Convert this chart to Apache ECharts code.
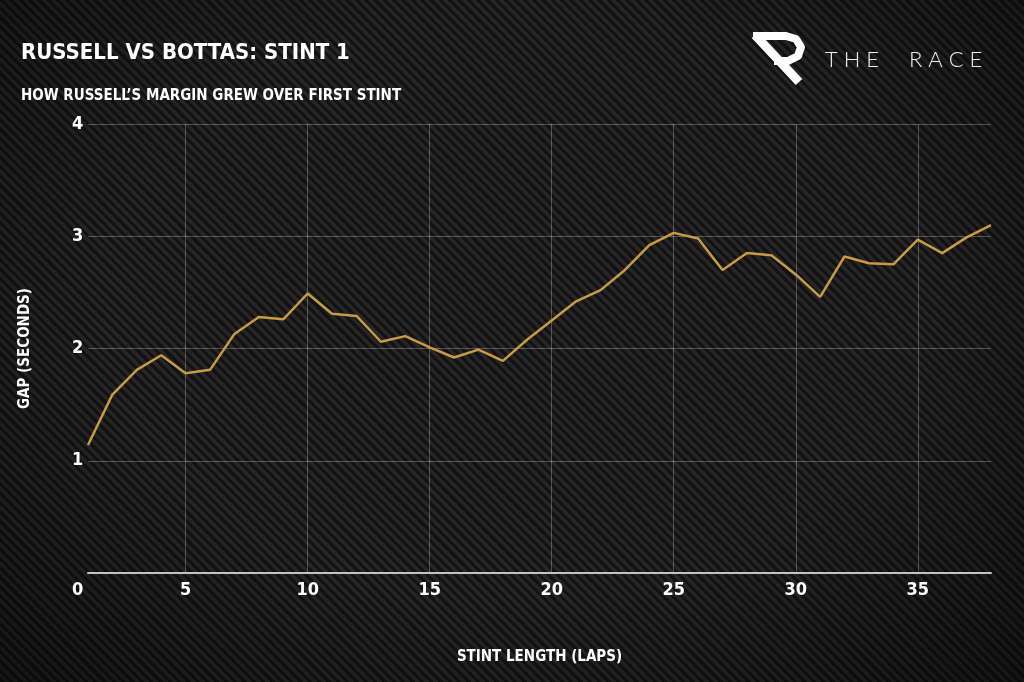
<!DOCTYPE html>
<html>
<head>
<meta charset="utf-8">
<script src="https://cdn.jsdelivr.net/npm/echarts@6/dist/echarts.min.js"></script>
<style>
  html, body { margin: 0; padding: 0; width: 1024px; height: 682px; overflow: hidden; }
  body {
    background:
      radial-gradient(ellipse at 50% 45%, rgba(0,0,0,0) 55%, rgba(0,0,0,0.45) 100%),
      repeating-linear-gradient(45deg, #121212 0px, #121212 3.2px, #262626 3.3px, #262626 6.6px);
  }
  #chart { width: 1024px; height: 682px; }
</style>
</head>
<body>
<div id="chart"></div>
<script>
// ---- data ----
const titleText = 'RUSSELL VS BOTTAS: STINT 1';
const subtitleText = 'HOW RUSSELL\u2019S MARGIN GREW OVER FIRST STINT';
const xAxisName = 'STINT LENGTH (LAPS)';
const yAxisName = 'GAP (SECONDS)';
const brandText = 'T H E     R A C E';
const laps = ['1','2','3','4','5','6','7','8','9','10','11','12','13','14','15','16','17','18','19',
              '20','21','22','23','24','25','26','27','28','29','30','31','32','33','34','35','36','37','38'];
const gapSeconds = [1.14, 1.59, 1.81, 1.94, 1.78, 1.81, 2.13, 2.28, 2.26, 2.49,
                    2.31, 2.29, 2.06, 2.11, 2.01, 1.92, 1.99, 1.89, 2.08, 2.25,
                    2.42, 2.52, 2.70, 2.92, 3.03, 2.98, 2.70, 2.85, 2.83, 2.66,
                    2.46, 2.82, 2.76, 2.75, 2.97, 2.85, 2.99, 3.10];
const yTicks = [0, 1, 2, 3, 4];

const FONT = "'DejaVu Sans Condensed', 'Liberation Sans Narrow', 'Noto Sans', sans-serif";
const showEvery5 = (i, v) => Number(v) % 5 === 0;

const chart = echarts.init(document.getElementById('chart'), null, { renderer: 'canvas' });
chart.setOption({
  backgroundColor: 'transparent',
  animation: false,
  title: [
    { text: titleText, left: 16, top: 37,
      textStyle: { color: '#ffffff', fontFamily: FONT, fontWeight: 'bold', fontSize: 22 } },
    { text: subtitleText, left: 16, top: 84,
      textStyle: { color: '#ffffff', fontFamily: FONT, fontWeight: 'bold', fontSize: 15 } }
  ],
  graphic: [
    { type: 'polyline', z: 10,
      shape: { points: [[753, 36], [786, 36], [796, 39], [801, 47], [798, 56], [788, 61], [774, 61]] },
      style: { stroke: '#ffffff', lineWidth: 8, fill: null, lineCap: 'butt', lineJoin: 'round' } },
    { type: 'line', z: 10,
      shape: { x1: 755, y1: 35, x2: 799, y2: 82 },
      style: { stroke: '#ffffff', lineWidth: 9, lineCap: 'butt' } },
    { type: 'text', left: 825, top: 49, z: 10,
      style: { text: brandText, fill: '#f0f0f0', font: "300 22px 'Lato', 'Open Sans', sans-serif" } }
  ],
  grid: { left: 88, right: 33, top: 124, bottom: 109, containLabel: false },
  xAxis: {
    type: 'category',
    data: laps,
    boundaryGap: false,
    name: xAxisName,
    nameLocation: 'middle',
    nameGap: 77,
    nameTextStyle: { color: '#ffffff', fontFamily: FONT, fontWeight: 'bold', fontSize: 15 },
    axisLine: { show: true, lineStyle: { color: '#c4c4c4', width: 2 } },
    axisTick: { show: false },
    axisLabel: { interval: showEvery5, color: '#ffffff', fontFamily: FONT, fontWeight: 'bold',
                 fontSize: 18, margin: 8 },
    splitLine: { show: true, interval: showEvery5,
                 lineStyle: { color: 'rgba(255,255,255,0.26)', width: 1 } }
  },
  yAxis: {
    type: 'value',
    min: yTicks[0],
    max: yTicks[yTicks.length - 1],
    interval: 1,
    name: yAxisName,
    nameLocation: 'middle',
    nameGap: 55,
    nameTextStyle: { color: '#ffffff', fontFamily: FONT, fontWeight: 'bold', fontSize: 15 },
    axisLine: { show: false },
    axisTick: { show: false },
    axisLabel: {
      align: 'left', margin: 16, color: '#ffffff', fontFamily: FONT, fontWeight: 'bold', fontSize: 18,
      formatter: v => v === 0 ? '{z|0}' : String(v),
      rich: { z: { color: '#ffffff', fontFamily: FONT, fontWeight: 'bold', fontSize: 18, padding: [34, 0, 0, 0] } }
    },
    splitLine: { show: true, lineStyle: { color: 'rgba(255,255,255,0.26)', width: 1 } }
  },
  series: [{
    type: 'line',
    data: gapSeconds,
    symbol: 'none',
    lineStyle: { color: '#c99b45', width: 2.5 },
    z: 5
  }]
});
</script>
</body>
</html>
